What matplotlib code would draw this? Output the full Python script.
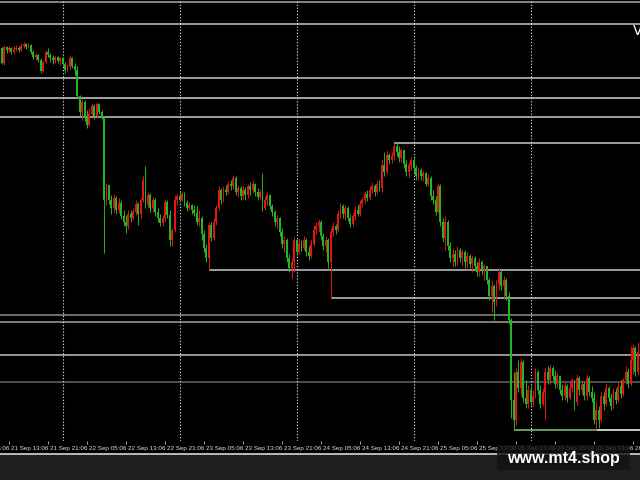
import numpy as np
import matplotlib
matplotlib.use('Agg')
import matplotlib.pyplot as plt
from matplotlib.patches import Rectangle
from matplotlib.lines import Line2D
from matplotlib.transforms import ScaledTranslation

# 30 minute bars, first bar at 21 Sep 11:06 (x = hours from that bar)
first_open = 450
closes = [452, 437, 453, 450, 452, 448, 451, 452, 450, 454,
          456, 453, 455, 448, 443, 445, 440, 429, 438, 448,
          445, 442, 440, 443, 439, 442, 436, 430, 433, 442,
          434, 430, 404, 388, 398, 382, 375, 386, 394, 384,
          396, 388, 383, 300, 315, 300, 292, 302, 290, 297,
          284, 278, 274, 286, 282, 288, 296, 286, 300, 320,
          295, 305, 292, 300, 288, 282, 277, 282, 298, 285,
          260, 270, 300, 304, 300, 306, 297, 292, 295, 290,
          287, 278, 282, 266, 252, 242, 275, 262, 278, 292,
          310, 300, 310, 308, 316, 314, 322, 308, 312, 304,
          310, 305, 314, 310, 316, 308, 303, 308, 292, 300,
          305, 294, 288, 278, 282, 268, 256, 260, 242, 232,
          238, 260, 248, 256, 252, 260, 248, 244, 256, 270,
          274, 278, 264, 254, 260, 238, 268, 274, 270, 286,
          294, 286, 292, 282, 276, 284, 290, 286, 296, 300,
          306, 302, 310, 314, 308, 316, 312, 335, 328, 345,
          340, 344, 354, 348, 342, 350, 336, 328, 335, 340,
          332, 324, 330, 324, 327, 316, 322, 304, 300, 288,
          314, 278, 262, 278, 254, 242, 246, 238, 250, 242,
          248, 238, 244, 236, 242, 234, 228, 238, 230, 234,
          220, 204, 214, 198, 216, 228, 214, 220, 204, 180,
          100, 80, 128, 112, 138, 102, 96, 110, 98, 104,
          128, 110, 96, 108, 128, 120, 132, 124, 116, 124,
          110, 104, 114, 102, 112, 120, 98, 122, 110, 116,
          104, 122, 108, 102, 80, 90, 80, 104, 96, 112,
          102, 94, 108, 100, 114, 106, 120, 128, 116, 140,
          152, 128, 148]
highs = [456, 453, 455, 454, 454, 453, 454, 455, 454, 457,
         458, 457, 457, 456, 450, 447, 446, 442, 440, 450,
         452, 447, 445, 444, 444, 443, 442, 438, 436, 445,
         443, 437, 434, 405, 401, 400, 390, 392, 397, 396,
         398, 397, 390, 384, 317, 314, 305, 306, 304, 302,
         300, 290, 285, 290, 290, 292, 300, 298, 302, 324,
         334, 308, 307, 303, 302, 292, 286, 285, 301, 300,
         290, 272, 305, 306, 308, 309, 308, 300, 298, 296,
         295, 294, 290, 284, 270, 256, 278, 278, 282, 295,
         314, 312, 314, 315, 319, 320, 325, 324, 315, 314,
         314, 313, 316, 318, 320, 317, 312, 311, 327, 304,
         308, 306, 296, 290, 285, 283, 272, 264, 262, 246,
         242, 263, 262, 262, 260, 264, 262, 254, 260, 275,
         278, 281, 280, 267, 264, 262, 272, 278, 276, 290,
         297, 296, 295, 294, 286, 287, 294, 295, 300, 303,
         309, 310, 314, 318, 316, 319, 320, 340, 348, 350,
         347, 348, 357, 357, 354, 352, 350, 340, 338, 343,
         342, 335, 333, 332, 330, 328, 326, 324, 310, 304,
         317, 316, 282, 284, 280, 258, 252, 250, 254, 252,
         251, 250, 248, 246, 245, 244, 238, 242, 240, 236,
         234, 222, 220, 216, 220, 232, 230, 224, 222, 208,
         182, 128, 132, 140, 142, 140, 120, 115, 114, 110,
         132, 130, 115, 112, 132, 134, 136, 134, 130, 128,
         124, 116, 118, 116, 118, 122, 120, 126, 124, 120,
         118, 126, 124, 114, 108, 98, 94, 108, 108, 116,
         114, 106, 112, 112, 118, 120, 122, 134, 132, 154,
         156, 154, 158]
lows = [446, 436, 435, 447, 448, 446, 446, 449, 448, 449,
        452, 451, 452, 446, 441, 440, 438, 427, 428, 437,
        443, 438, 436, 437, 437, 435, 434, 427, 429, 431,
        432, 425, 402, 384, 380, 379, 372, 374, 384, 381,
        382, 386, 381, 247, 295, 296, 286, 288, 286, 287,
        281, 274, 267, 271, 278, 280, 285, 275, 282, 298,
        292, 292, 288, 288, 284, 278, 274, 274, 279, 282,
        254, 254, 268, 295, 298, 299, 294, 289, 290, 286,
        284, 275, 274, 260, 248, 238, 230, 259, 260, 275,
        290, 296, 298, 305, 306, 310, 311, 305, 303, 300,
        301, 300, 302, 305, 307, 304, 300, 301, 289, 290,
        295, 291, 284, 274, 272, 264, 252, 248, 238, 228,
        222, 228, 245, 246, 249, 250, 244, 240, 242, 254,
        266, 268, 260, 250, 248, 232, 202, 264, 266, 268,
        282, 282, 280, 279, 273, 274, 280, 284, 284, 293,
        297, 299, 300, 307, 304, 306, 309, 308, 324, 326,
        336, 337, 340, 344, 338, 338, 332, 324, 322, 330,
        328, 320, 320, 320, 319, 314, 314, 300, 296, 285,
        290, 274, 258, 250, 250, 238, 234, 234, 235, 238,
        234, 232, 230, 232, 228, 230, 224, 224, 226, 220,
        216, 200, 188, 180, 194, 210, 210, 202, 200, 176,
        82, 70, 75, 108, 105, 98, 92, 92, 95, 94,
        102, 106, 92, 94, 80, 116, 116, 120, 112, 112,
        106, 100, 100, 98, 100, 108, 90, 95, 105, 106,
        100, 100, 104, 98, 76, 70, 72, 78, 90, 94,
        98, 90, 92, 96, 98, 102, 104, 116, 112, 114,
        126, 124, 125]

# horizontal levels across the whole chart
full_levels = [498, 476, 422, 402, 383, 185, 178, 145, 118]
full_colors = ['#a8a8a8', '#c8c8c8', '#c8c8c8', '#d0d0d0', '#c8c8c8',
               '#8c8c8c', '#b09a9a', '#c4bcbc', '#5c6474']
# levels that start at a given bar and run to the right
ray_levels = [357, 230, 202, 70, 70]
ray_start = [162, 86, 136, 211, 245]
ray_colors = ['#c8c8c8', '#c8c8c8', '#c8c8c8', '#8cc48c', '#d8d8d8']

tick_hours = [-6, 2, 10, 18, 26, 34, 42, 50, 58, 66, 74, 82, 90, 98, 106, 114, 122, 130]
tick_labels = ['21 Sep 05:06', '21 Sep 13:06', '21 Sep 21:06', '22 Sep 05:06',
               '22 Sep 13:06', '22 Sep 21:06', '23 Sep 05:06', '23 Sep 13:06',
               '23 Sep 21:06', '24 Sep 05:06', '24 Sep 13:06', '24 Sep 21:06',
               '25 Sep 05:06', '25 Sep 13:06', '25 Sep 21:06', '26 Sep 05:06',
               '26 Sep 13:06', '26 Sep 21:06']
grid_hours = [13, 37, 61, 85, 109, 133]

assert len(closes) == len(highs) == len(lows)

c = np.array(closes, dtype=float)
o = np.array([first_open] + closes[:-1], dtype=float)
h = np.maximum(np.array(highs, dtype=float), np.maximum(o, c))
l = np.minimum(np.array(lows, dtype=float), np.minimum(o, c))
hours = np.arange(len(c)) * 0.5
cols = np.where(c >= o, '#e41414', '#20b820')

fig = plt.figure(figsize=(6.4, 4.8), dpi=100, facecolor='black')
ax = fig.add_axes([0, 39 / 480, 1, 441 / 480])
ax.set_facecolor('black')

for lev, col in zip(full_levels, full_colors):
    ax.axhline(lev, color=col, lw=1.1, zorder=1)
for lev, st, col in zip(ray_levels, ray_start, ray_colors):
    ax.hlines(lev, hours[st], 140, color=col, lw=1.1, zorder=1)

for gh in grid_hours:
    ax.axvline(gh, color='#d0d0d0', lw=0.8, linestyle=(0, (1.2, 1.6)), zorder=1)

ax.vlines(hours, l, h, colors=cols, lw=0.7, zorder=2)
ax.bar(hours, np.maximum(np.abs(c - o), 0.8), bottom=np.minimum(o, c),
       width=0.4, color=cols, linewidth=0, zorder=3)

ax.set_yticks([])
for s in ax.spines.values():
    s.set_visible(False)
ax.set_xticks(tick_hours)
ax.set_xticklabels(tick_labels, ha='left', fontsize=4.5, color='#e0e0e0',
                   family='Liberation Sans')
ax.tick_params(axis='x', direction='out', length=2.5, width=0.6,
               color='#c0c0c0', pad=0.8)
off = ScaledTranslation(2 / 100, 0, fig.dpi_scale_trans)
for lab in ax.get_xticklabels():
    lab.set_transform(lab.get_transform() + off)

# limits last: set_xticks widens the view to take in the off-screen tick
ax.set_xlim(0.154, 131.44)
ax.set_ylim(59, 500)

# the first label's tick is left of the view, so only its tail shows
ax.annotate(tick_labels[0], xy=(tick_hours[0], 0), xycoords=('data', 'axes fraction'),
            xytext=(1.44, -3.3), textcoords='offset points', ha='left', va='top',
            fontsize=4.5, color='#e0e0e0', family='Liberation Sans',
            annotation_clip=False)

# bottom strip
fig.add_artist(Rectangle((0, 0), 1, 26 / 480, transform=fig.transFigure,
                         facecolor='#1e1e1e', edgecolor='none', zorder=1))
fig.add_artist(Line2D([0, 1], [26 / 480, 26 / 480], transform=fig.transFigure,
                      color='#d8d8d8', lw=1.2, zorder=2))

# watermark
fig.add_artist(Rectangle((497 / 640, 1 - 470 / 480), 133 / 640, 25 / 480,
                         transform=fig.transFigure, facecolor='#121212',
                         edgecolor='none', alpha=0.8, zorder=5))
fig.text(563 / 640, 1 - 458 / 480, 'www.mt4.shop', color='white', fontsize=11.5,
         fontweight='bold', ha='center', va='center', family='Liberation Sans',
         zorder=6)
fig.text(633 / 640, 1 - 31 / 480, 'V', color='white', fontsize=10,
         ha='left', va='center')

fig.savefig('out.png', dpi=100, facecolor=fig.get_facecolor())
